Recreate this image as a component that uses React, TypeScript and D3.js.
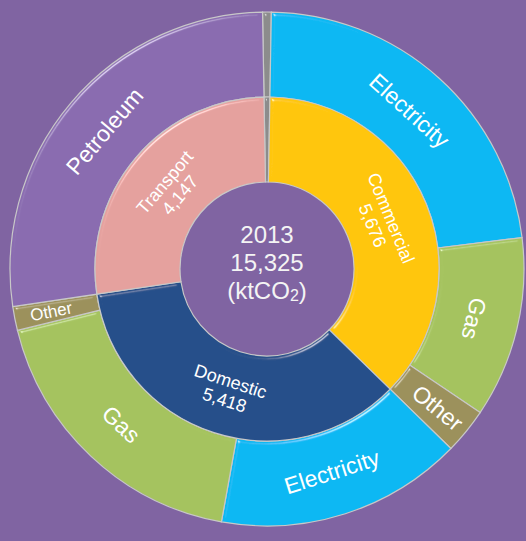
import React from "react";
import * as d3 from "d3";

const W = 526;
const H = 541;

// Inner ring: sectors (first entry is the thin unlabelled sliver at 12 o'clock)
const sectors = ["", "Commercial", "Domestic", "Transport"];
const sectorValues = [84, 5676, 5418, 4147];
const sectorColors = ["#8c8c8c", "#FFC60A", "#26508A", "#E5A19E"];

// Outer ring: fuel split inside each sector, same order as the sectors
const fuelSector = ["", "Commercial", "Commercial", "Commercial", "Domestic", "Domestic", "Domestic", "Transport"];
const fuels = ["", "Electricity", "Gas", "Other", "Electricity", "Gas", "Other", "Petroleum"];
const fuelValues = [84, 3491, 1745, 440, 2380, 2808, 230, 4147];
const fuelColorMap: Record<string, string> = {
  "": "#8c8c8c",
  Electricity: "#0BB8F3",
  Gas: "#A5C35F",
  Other: "#9C915C",
  Petroleum: "#8A6CB0",
};

const centerLines = ["2013", "15,325"];
const total = 15325;

export default function App() {
  const cx = 267;
  const cy = 269;
  const r0 = 87;
  const r1 = 172;
  const r2 = 257;
  const start = (-1 * Math.PI) / 180;

  const pie = d3
    .pie<number>()
    .sort(null)
    .value((d) => d)
    .startAngle(start)
    .endAngle(start + 2 * Math.PI);

  const innerArcs = pie(sectorValues);
  const outerArcs = pie(fuelValues);

  const innerArc = d3.arc<d3.PieArcDatum<number>>().innerRadius(r0).outerRadius(r1);
  const outerArc = d3.arc<d3.PieArcDatum<number>>().innerRadius(r1).outerRadius(r2);

  const fmt = d3.format(",");
  const deg = (a: number) => ((a * 180) / Math.PI + 360) % 360;

  const tangentRot = (a: number) => {
    if (a > 110 && a <= 250) return a - 180;
    if (a > 250) return a - 360;
    return a;
  };
  const radialRot = (a: number) => (a < 180 ? a - 90 : a - 270);

  const labelPos = (d: d3.PieArcDatum<number>, r: number) => {
    const m = (d.startAngle + d.endAngle) / 2;
    return { x: cx + r * Math.sin(m), y: cy - r * Math.cos(m), a: deg(m) };
  };

  const font = "'Liberation Sans', Arial, sans-serif";

  return (
    <svg
      width={W}
      height={H}
      style={{ position: "absolute", left: 0, top: 0 }}
      xmlns="http://www.w3.org/2000/svg"
    >
      <defs>
        <filter id="bevel" x="-5%" y="-5%" width="110%" height="110%">
          <feGaussianBlur in="SourceAlpha" stdDeviation="2" result="blur" />
          <feSpecularLighting
            in="blur"
            surfaceScale="3"
            specularConstant="0.8"
            specularExponent="80"
            lightingColor="#ffffff"
            result="spec"
          >
            <feDistantLight azimuth="235" elevation="42" />
          </feSpecularLighting>
          <feComposite in="spec" in2="SourceAlpha" operator="in" result="specIn" />
          <feComposite
            in="SourceGraphic"
            in2="specIn"
            operator="arithmetic"
            k1="0"
            k2="1"
            k3="0.6"
            k4="0"
          />
        </filter>
      </defs>
      <rect x={0} y={0} width={W} height={H} fill="#8064A2" />
      <g transform={`translate(${cx},${cy})`}>
        {outerArcs.map((d, i) => (
          <path
            key={"o" + i}
            d={outerArc(d) || ""}
            fill={fuelColorMap[fuels[i]]}
            stroke="#c8c8c8"
            strokeWidth={1.2}
            filter="url(#bevel)"
          />
        ))}
        {innerArcs.map((d, i) => (
          <path
            key={"i" + i}
            d={innerArc(d) || ""}
            fill={sectorColors[i]}
            stroke="#c8c8c8"
            strokeWidth={1.2}
            filter="url(#bevel)"
          />
        ))}
      </g>

      {outerArcs.map((d, i) => {
        if (!fuels[i]) return null;
        const span = ((d.endAngle - d.startAngle) * 180) / Math.PI;
        const narrow = span < 15;
        const p = labelPos(d, narrow ? 220 : 213);
        const rot = narrow ? radialRot(p.a) : tangentRot(p.a);
        const size = span < 7 ? 17 : 23;
        return (
          <text
            key={"ol" + i}
            transform={`translate(${p.x},${p.y}) rotate(${rot})`}
            textAnchor="middle"
            dy="0.35em"
            fill="#ffffff"
            fontFamily={font}
            fontSize={size}
          >
            {fuels[i]}
          </text>
        );
      })}

      {innerArcs.map((d, i) => {
        if (!sectors[i]) return null;
        const p = labelPos(d, 126);
        const rot = tangentRot(p.a);
        return (
          <text
            key={"il" + i}
            transform={`translate(${p.x},${p.y}) rotate(${rot})`}
            textAnchor="middle"
            fill="#ffffff"
            fontFamily={font}
            fontSize={18}
          >
            <tspan x={0} dy="-0.1em">
              {sectors[i]}
            </tspan>
            <tspan x={0} dy="1.1em">
              {fmt(sectorValues[i])}
            </tspan>
          </text>
        );
      })}

      <text
        textAnchor="middle"
        fill="#f4f4f4"
        fontFamily={font}
        fontSize={24}
      >
        <tspan x={cx} y={243}>
          {centerLines[0]}
        </tspan>
        <tspan x={cx} y={271}>
          {fmt(total)}
        </tspan>
        <tspan x={cx} y={299}>
          (ktCO<tspan fontSize={16} dy="2">2</tspan>
          <tspan dy="-2">)</tspan>
        </tspan>
      </text>
    </svg>
  );
}
